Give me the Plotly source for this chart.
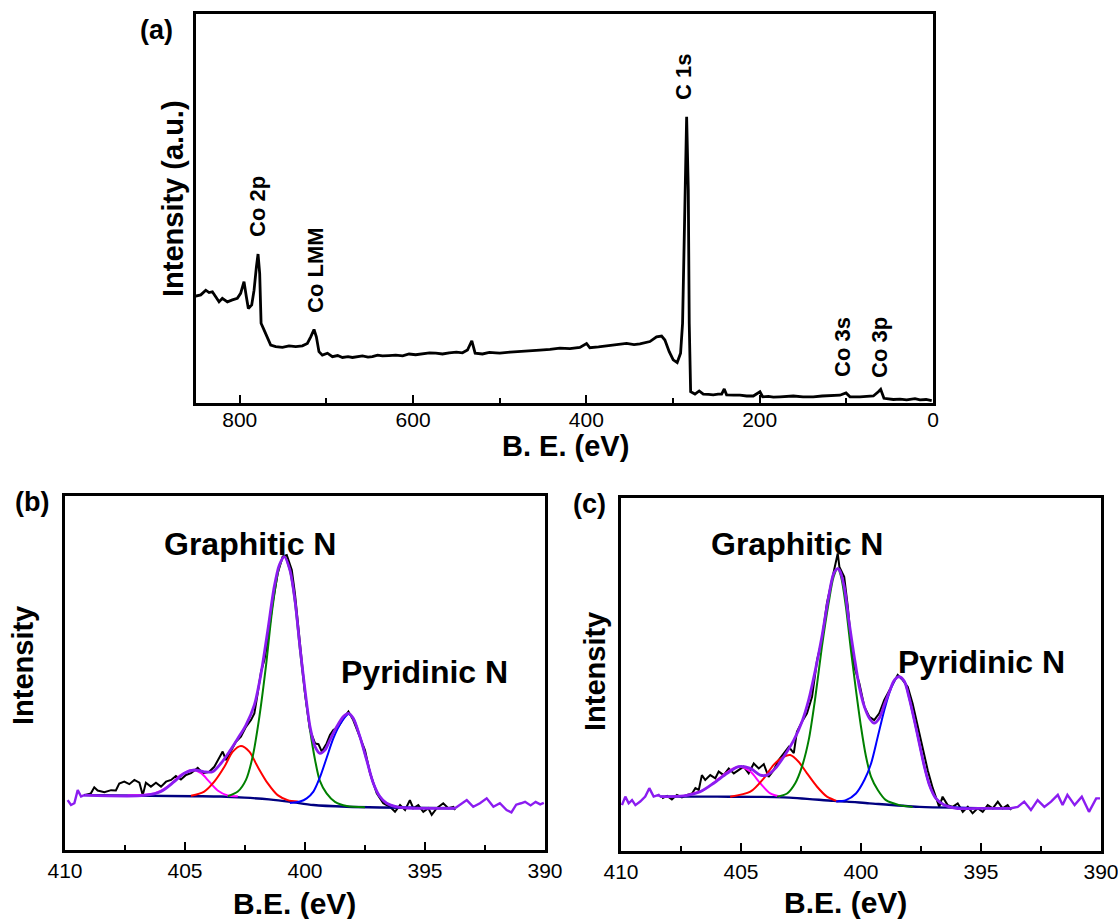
import plotly.graph_objects as go

FONT = "Liberation Sans, Arial, Helvetica, sans-serif"
W, H = 1118, 919

# ---------------- (a) XPS survey spectrum ----------------
survey_be = [850.8, 845.0, 839.2, 835.4, 831.6, 827.7, 823.9, 820.1, 814.3, 808.5,
             802.8, 799.0, 795.1, 792.4, 790.1, 786.2, 783.5, 780.8, 778.9, 777.0,
             775.4, 772.0, 768.1, 764.3, 758.5, 750.8, 743.1, 735.4, 727.7, 722.0,
             718.1, 714.3, 711.6, 708.6, 704.7, 698.8, 693.1, 687.0, 681.5, 675.0,
             670.0, 664.0, 658.4, 652.0, 646.9, 641.0, 635.3, 628.0, 620.0, 612.0,
             604.6, 597.0, 589.2, 581.0, 573.8, 566.0, 558.4, 550.0, 543.0, 537.2,
             532.2, 528.4, 519.9, 512.0, 504.5, 499.9, 488.0, 476.8, 465.0, 453.7,
             442.0, 430.6, 419.0, 407.5, 399.8, 396.0, 386.0, 376.7, 365.0, 353.6,
             345.0, 338.2, 326.7, 319.0, 313.2, 309.4, 304.4, 299.8, 295.2, 291.3,
             289.0, 287.4, 285.9, 284.3, 282.4, 281.3, 279.7, 274.7, 269.8, 265.1,
             259.0, 253.6, 248.0, 243.9, 240.9, 238.2, 230.0, 222.8, 215.0, 207.4,
             199.7, 196.6, 190.0, 184.2, 176.6, 168.0, 161.2, 150.0, 138.2, 128.0,
             118.9, 107.4, 100.4, 95.8, 84.3, 76.0, 68.8, 63.1, 60.4, 56.6,
             45.7, 38.0, 30.4, 20.8, 15.0, 8.0, 1.5]
survey_int = [27.5, 27.8, 29.0, 28.4, 28.6, 27.3, 26.0, 26.9, 26.0, 26.5,
              26.9, 28.2, 31.2, 27.3, 24.3, 25.2, 29.0, 35.0, 38.3, 33.3,
              20.5, 18.8, 16.6, 14.9, 14.5, 14.3, 14.7, 14.5, 14.7, 15.3,
              17.0, 18.9, 17.0, 13.2, 12.3, 12.8, 11.9, 12.2, 11.7, 11.9,
              11.7, 12.0, 12.1, 11.8, 11.9, 12.3, 12.1, 12.2, 12.3, 12.1,
              12.6, 12.4, 12.6, 12.9, 12.8, 12.6, 12.9, 13.1, 12.9, 13.6,
              16.0, 12.8, 12.6, 13.0, 12.9, 12.8, 13.1, 13.2, 13.4, 13.6,
              13.8, 14.1, 14.0, 14.3, 15.3, 14.2, 14.4, 14.7, 14.9, 15.3,
              15.0, 15.2, 15.8, 17.0, 17.2, 16.2, 13.2, 11.1, 10.4, 12.8,
              20.5, 37.6, 54.8, 73.6, 54.8, 20.5, 2.9, 2.3, 3.1, 2.3,
              2.2, 2.1, 2.3, 2.3, 3.6, 2.1, 2.0, 2.0, 1.8, 1.8,
              2.9, 1.6, 1.7, 1.5, 1.6, 1.7, 1.8, 1.6, 1.6, 1.8,
              1.9, 2.0, 2.6, 1.6, 1.6, 1.7, 1.8, 2.9, 3.5, 1.2,
              0.9, 1.0, 0.8, 1.1, 0.8, 0.9, 0.6]

survey_labels = ["Co 2p", "Co LMM", "C 1s", "Co 3s", "Co 3p"]

# ---------------- (b) N 1s high-resolution spectrum ----------------
b_be = [409.20, 408.92, 408.78, 408.64, 408.36, 408.08, 407.88, 407.74, 407.53, 407.32,
        407.11, 406.90, 406.76, 406.63, 406.42, 406.21, 406.00, 405.79, 405.58, 405.38,
        405.17, 404.96, 404.75, 404.47, 404.26, 403.99, 403.78, 403.64, 403.43, 403.29,
        403.08, 402.88, 402.67, 402.46, 402.25, 402.11, 401.97, 401.83, 401.69, 401.55,
        401.35, 401.14, 400.93, 400.76, 400.55, 400.42, 400.28, 400.14, 400.00, 399.79,
        399.58, 399.44, 399.30, 399.10, 398.96, 398.82, 398.61, 398.40, 398.19, 397.99,
        397.71, 397.50, 397.29, 397.01, 396.74, 396.46, 396.25, 396.04, 395.83, 395.63,
        395.49, 395.28, 395.07, 394.86, 394.72, 394.51, 394.24, 394.03, 393.82, 393.75]
b_int = [15.5, 16.0, 17.7, 16.8, 16.3, 16.9, 16.8, 18.8, 19.3, 18.6,
         19.8, 19.0, 15.5, 19.0, 17.9, 19.0, 17.9, 19.3, 19.8, 20.9,
         19.9, 21.2, 21.7, 23.2, 21.7, 22.1, 23.5, 25.4, 27.8, 25.4,
         28.2, 30.6, 32.0, 34.8, 36.7, 38.6, 44.3, 50.4, 53.7, 59.3,
         69.7, 78.1, 82.9, 83.3, 79.1, 72.5, 63.1, 53.7, 44.3, 33.9,
         30.1, 29.9, 27.8, 30.1, 32.5, 33.9, 34.8, 37.2, 39.1, 36.7,
         32.0, 28.2, 21.7, 16.0, 13.2, 12.2, 10.8, 12.7, 11.3, 14.1,
         11.8, 12.7, 10.8, 11.8, 9.9, 11.8, 13.2, 11.8, 12.2, 11.3]

b_env_be = [409.20, 406.70, 406.00, 405.45, 405.03, 404.61, 404.20, 403.85, 403.50, 403.15,
            402.80, 402.46, 402.11, 401.83, 401.55, 401.28, 401.07, 400.86, 400.63, 400.42,
            400.21, 400.00, 399.79, 399.58, 399.38, 399.17, 398.96, 398.68, 398.40, 398.19,
            397.99, 397.71, 397.43, 397.15, 396.88, 396.60, 396.18, 395.49, 393.75]
b_env_int = [15.5, 15.4, 16.5, 19.3, 21.7, 22.6, 22.1, 22.1, 24.5, 27.8,
             31.5, 35.3, 41.0, 49.9, 62.1, 74.4, 80.5, 82.9, 79.1, 70.6,
             57.4, 45.2, 34.8, 29.2, 27.3, 28.2, 31.1, 34.8, 37.7, 38.6,
             37.2, 32.0, 25.4, 18.8, 15.1, 13.2, 12.2, 11.8, 11.8]

b_tail_left_be = [409.89, 409.75, 409.61, 409.47, 409.33, 409.20]
b_tail_left_int = [14.1, 12.7, 13.2, 16.9, 15.1, 15.5]
b_tail_right_be = [393.75, 393.54, 393.26, 392.99, 392.71, 392.43, 392.15, 391.88, 391.60,
                   391.40, 391.20, 391.00, 390.83, 390.60, 390.39, 390.20, 390.05]
b_tail_right_int = [11.8, 12.7, 14.1, 12.2, 13.2, 14.6, 12.2, 13.2, 11.3,
                    10.6, 12.8, 13.2, 13.6, 12.6, 13.6, 12.9, 13.3]

b_bg_be = [409.20, 404.60, 403.50, 402.53, 401.50, 400.60, 399.65, 398.26, 396.88, 393.75]
b_bg_int = [15.5, 15.2, 15.1, 14.8, 14.3, 13.6, 12.7, 12.2, 12.0, 11.8]

b_graph_be = [403.22, 402.80, 402.46, 402.18, 401.90, 401.63, 401.35, 401.07, 400.86, 400.63,
              400.42, 400.21, 400.00, 399.79, 399.58, 399.38, 399.10, 398.75, 398.26, 397.50]
b_graph_int = [15.2, 16.5, 19.8, 26.4, 37.7, 51.8, 68.7, 80.0, 82.9, 79.0,
               70.1, 56.5, 44.3, 33.9, 25.4, 19.5, 16.0, 13.6, 12.4, 12.1]

b_pyr_be = [400.63, 400.21, 399.93, 399.65, 399.38, 399.10, 398.82, 398.54, 398.19, 397.99,
            397.71, 397.43, 397.15, 396.88, 396.60, 396.18, 395.50]
b_pyr_int = [13.3, 13.7, 14.6, 16.5, 20.5, 26.0, 31.5, 35.5, 38.4, 37.2,
             32.0, 25.4, 18.8, 15.0, 13.2, 12.2, 11.9]

b_red_be = [404.75, 404.20, 403.78, 403.36, 403.01, 402.67, 402.32, 401.97, 401.55, 401.14,
            400.72, 400.30]
b_red_int = [15.3, 16.5, 19.3, 23.5, 27.8, 29.4, 27.8, 23.5, 18.8, 15.5,
             14.1, 13.7]

b_pink_be = [407.39, 406.28, 405.72, 405.17, 404.68, 404.33, 403.99, 403.64, 403.22, 402.80]
b_pink_int = [15.5, 16.0, 17.9, 21.2, 22.6, 21.7, 19.3, 16.8, 15.4, 15.2]

# ---------------- (c) N 1s high-resolution spectrum ----------------
c_be = [408.29, 408.08, 407.88, 407.67, 407.46, 407.25, 407.04, 406.90, 406.76, 406.63,
        406.49, 406.28, 406.07, 405.93, 405.72, 405.51, 405.30, 405.10, 404.89, 404.68,
        404.47, 404.26, 404.05, 403.85, 403.64, 403.43, 403.22, 403.01, 402.80, 402.67,
        402.46, 402.25, 402.04, 401.83, 401.63, 401.42, 401.21, 401.07, 400.97, 400.90,
        400.70, 400.55, 400.42, 400.28, 400.07, 399.86, 399.65, 399.45, 399.24, 399.03,
        398.82, 398.61, 398.47, 398.26, 398.05, 397.85, 397.64, 397.43, 397.22, 397.01,
        396.88, 396.74, 396.60, 396.39, 396.18, 395.97, 395.76, 395.55, 395.35, 395.14,
        394.93, 394.72, 394.51, 394.30, 394.10, 393.89, 393.75]
c_int = [14.9, 15.6, 14.6, 15.9, 15.2, 15.9, 16.3, 17.8, 17.3, 21.5,
         20.1, 21.5, 20.6, 22.5, 21.5, 23.4, 22.0, 22.9, 23.9, 22.0,
         24.8, 23.4, 24.6, 21.0, 22.9, 25.8, 27.7, 29.5, 27.7, 33.8,
         36.6, 39.0, 43.7, 54.1, 59.8, 70.2, 76.8, 81.5, 84.3, 80.5,
         77.7, 69.2, 59.8, 52.2, 47.5, 40.9, 38.0, 37.1, 39.0, 42.8,
         45.6, 48.4, 49.9, 48.4, 46.5, 41.8, 35.2, 29.5, 22.9, 17.8,
         15.4, 12.5, 15.4, 13.0, 12.5, 13.5, 11.1, 12.5, 10.7, 12.1,
         11.1, 13.0, 12.1, 14.0, 12.1, 13.0, 11.6]

c_env_be = [408.36, 407.39, 406.70, 406.14, 405.58, 405.10, 404.61, 404.20, 403.92, 403.57,
            403.22, 402.80, 402.46, 402.18, 401.90, 401.63, 401.35, 401.14, 400.97, 400.90,
            400.70, 400.49, 400.28, 400.07, 399.86, 399.65, 399.45, 399.24, 399.03, 398.82,
            398.61, 398.40, 398.19, 397.99, 397.78, 397.57, 397.36, 397.15, 396.88, 396.53,
            396.04, 394.79, 393.75]
c_env_int = [15.4, 15.6, 16.8, 19.2, 22.0, 23.9, 23.4, 21.5, 21.5, 23.4,
             26.7, 31.4, 36.6, 42.8, 51.3, 60.7, 72.0, 78.6, 80.0, 79.6,
             74.9, 64.5, 55.0, 46.5, 40.9, 37.6, 36.2, 37.6, 41.4, 45.1,
             48.4, 49.4, 48.0, 43.3, 37.1, 30.5, 23.9, 18.7, 14.9, 13.0,
             12.1, 12.1, 12.1]

c_tail_left_be = [409.96, 409.82, 409.68, 409.54, 409.40, 409.20, 408.99, 408.82, 408.64, 408.43, 408.36]
c_tail_left_int = [13.0, 15.4, 13.5, 14.4, 13.0, 14.0, 15.4, 17.8, 15.4, 15.9, 15.4]
c_tail_right_be = [393.75, 393.47, 393.20, 392.92, 392.64, 392.36, 392.08, 391.80, 391.60,
                   391.40, 391.10, 390.80, 390.50, 390.20, 390.04]
c_tail_right_int = [12.1, 12.5, 14.0, 11.6, 14.4, 12.5, 14.0, 15.9, 13.0,
                    15.9, 13.0, 15.4, 11.1, 14.9, 14.9]

c_bg_be = [408.36, 406.00, 403.22, 401.14, 400.58, 399.65, 397.57, 393.75]
c_bg_int = [15.4, 15.4, 15.2, 14.2, 14.0, 13.5, 12.5, 12.1]

c_graph_be = [403.50, 403.08, 402.74, 402.46, 402.18, 401.90, 401.63, 401.35, 401.14, 400.97,
              400.83, 400.63, 400.42, 400.21, 400.00, 399.79, 399.58, 399.30, 398.96, 398.40,
              397.85]
c_graph_int = [15.4, 16.3, 19.2, 23.9, 31.4, 43.7, 57.8, 70.2, 77.7, 80.0,
               77.7, 69.2, 56.9, 45.6, 35.2, 26.7, 21.0, 17.3, 14.4, 13.0,
               12.5]

c_pyr_be = [401.04, 400.63, 400.21, 399.86, 399.58, 399.30, 399.03, 398.75, 398.47, 398.19,
            397.99, 397.78, 397.57, 397.36, 397.15, 396.88, 396.53, 396.04, 395.50]
c_pyr_int = [14.0, 14.4, 16.3, 20.1, 24.8, 32.4, 39.9, 46.1, 49.4, 48.0,
             43.3, 37.1, 30.5, 23.9, 18.7, 14.9, 13.0, 12.3, 12.2]

c_red_be = [405.45, 404.61, 404.05, 403.64, 403.22, 402.95, 402.60, 402.25, 401.83, 401.42,
            400.94]
c_red_int = [15.4, 16.8, 20.6, 24.4, 26.7, 27.2, 25.3, 22.0, 18.2, 15.4,
             14.0]

c_pink_be = [407.39, 406.55, 406.00, 405.45, 405.03, 404.61, 404.20, 403.78, 403.36]
c_pink_int = [15.6, 17.3, 20.1, 22.9, 23.9, 22.5, 19.2, 16.3, 15.4]

n1s_labels = ["Graphitic N", "Pyridinic N"]

# ---------------- colours ----------------
BLACK = "#000000"
VIOLET = "#8B1CF0"
NAVY = "#000080"
GREEN = "#008000"
BLUE = "#0000FF"
RED = "#FF0000"
MAGENTA = "#FF00FF"

fig = go.Figure()


def line(x, y, color, width, axes, shape="linear"):
    fig.add_trace(go.Scatter(
        x=x, y=y, mode="lines",
        line=dict(color=color, width=width, shape=shape, smoothing=0.8),
        xaxis=axes[0], yaxis=axes[1], showlegend=False, hoverinfo="skip"))


# survey
line(survey_be, survey_int, BLACK, 2.8, ("x", "y"))

# panel b
line(b_be, b_int, BLACK, 2.0, ("x2", "y2"))
line(b_bg_be, b_bg_int, NAVY, 2.4, ("x2", "y2"), "spline")
line(b_pink_be, b_pink_int, MAGENTA, 2.0, ("x2", "y2"), "spline")
line(b_red_be, b_red_int, RED, 2.0, ("x2", "y2"), "spline")
line(b_graph_be, b_graph_int, GREEN, 2.0, ("x2", "y2"), "spline")
line(b_pyr_be, b_pyr_int, BLUE, 2.0, ("x2", "y2"), "spline")
line(b_tail_left_be, b_tail_left_int, VIOLET, 2.4, ("x2", "y2"))
line(b_tail_right_be, b_tail_right_int, VIOLET, 2.4, ("x2", "y2"))
line(b_env_be, b_env_int, VIOLET, 2.8, ("x2", "y2"), "spline")

# panel c
line(c_be, c_int, BLACK, 2.0, ("x3", "y3"))
line(c_bg_be, c_bg_int, NAVY, 2.4, ("x3", "y3"), "spline")
line(c_pink_be, c_pink_int, MAGENTA, 2.0, ("x3", "y3"), "spline")
line(c_red_be, c_red_int, RED, 2.0, ("x3", "y3"), "spline")
line(c_graph_be, c_graph_int, GREEN, 2.0, ("x3", "y3"), "spline")
line(c_pyr_be, c_pyr_int, BLUE, 2.0, ("x3", "y3"), "spline")
line(c_tail_left_be, c_tail_left_int, VIOLET, 2.4, ("x3", "y3"))
line(c_tail_right_be, c_tail_right_int, VIOLET, 2.4, ("x3", "y3"))
line(c_env_be, c_env_int, VIOLET, 2.8, ("x3", "y3"), "spline")


def px_x(v):
    return v / W


def px_y(v):
    return 1 - v / H


def xaxis_cfg(left, right, rng, tick0, dtick, minor_dtick, anchor, standoff=0):
    return dict(
        domain=[px_x(left), px_x(right)], range=rng, anchor=anchor,
        automargin=False, ticklabeloverflow="allow", ticklabelstandoff=standoff,
        showline=True, linecolor="black", linewidth=2.5, mirror=True,
        ticks="inside", ticklen=8, tickwidth=2, tickcolor="black",
        tick0=tick0, dtick=dtick,
        minor=dict(ticks="inside", ticklen=5, tickwidth=2, tickcolor="black",
                   tick0=tick0, dtick=minor_dtick),
        showgrid=False, zeroline=False,
        tickfont=dict(family=FONT, size=21, color="black"))


def yaxis_cfg(top, bottom, anchor):
    return dict(
        domain=[px_y(bottom), px_y(top)], range=[0, 100], anchor=anchor,
        automargin=False,
        showline=True, linecolor="black", linewidth=2.5, mirror=True,
        ticks="", showticklabels=False, showgrid=False, zeroline=False)


fig.update_layout(
    template="none",
    width=W, height=H, autosize=False,
    margin=dict(l=0, r=0, t=0, b=0, pad=0),
    paper_bgcolor="white", plot_bgcolor="white",
    xaxis=xaxis_cfg(196, 933, [850.5, 0], 0, 200, 100, "y", standoff=-4),
    yaxis=yaxis_cfg(14, 403, "x"),
    xaxis2=xaxis_cfg(65, 545, [410, 390], 390, 5, 2.5, "y2"),
    yaxis2=yaxis_cfg(496, 850, "x2"),
    xaxis3=xaxis_cfg(621, 1101, [410, 390], 390, 5, 2.5, "y3"),
    yaxis3=yaxis_cfg(498, 851, "x3"),
)


def text(s, x, y, size, angle=0, bold=True):
    fig.add_annotation(
        text=f"<b>{s}</b>" if bold else s,
        x=px_x(x), y=px_y(y), xref="paper", yref="paper",
        xanchor="center", yanchor="middle", showarrow=False, textangle=angle,
        font=dict(family=FONT, size=size, color="black"))


# panel letters
text("(a)", 156, 30, 27)
text("(b)", 32, 502, 27)
text("(c)", 589, 504, 27)

# survey axis titles and peak labels
text("Intensity (a.u.)", 173, 198, 29, -90)
text("B. E. (eV)", 565, 446, 29)
survey_label_pos = [(257, 207), (315, 270), (684, 77), (843, 347), (879, 348)]
for s, (lx, ly) in zip(survey_labels, survey_label_pos):
    text(s, lx, ly, 22, -90)

# N 1s panels
text("Intensity", 23, 666, 29, -90)
text("B.E. (eV)", 294, 903, 30)
text(n1s_labels[0], 250, 544, 32)
text(n1s_labels[1], 424, 672, 32)

text("Intensity", 595, 672, 29, -90)
text("B.E. (eV)", 845, 902, 30)
text(n1s_labels[0], 797, 544, 32)
text(n1s_labels[1], 981, 662, 32)

fig.write_html("out.html")
